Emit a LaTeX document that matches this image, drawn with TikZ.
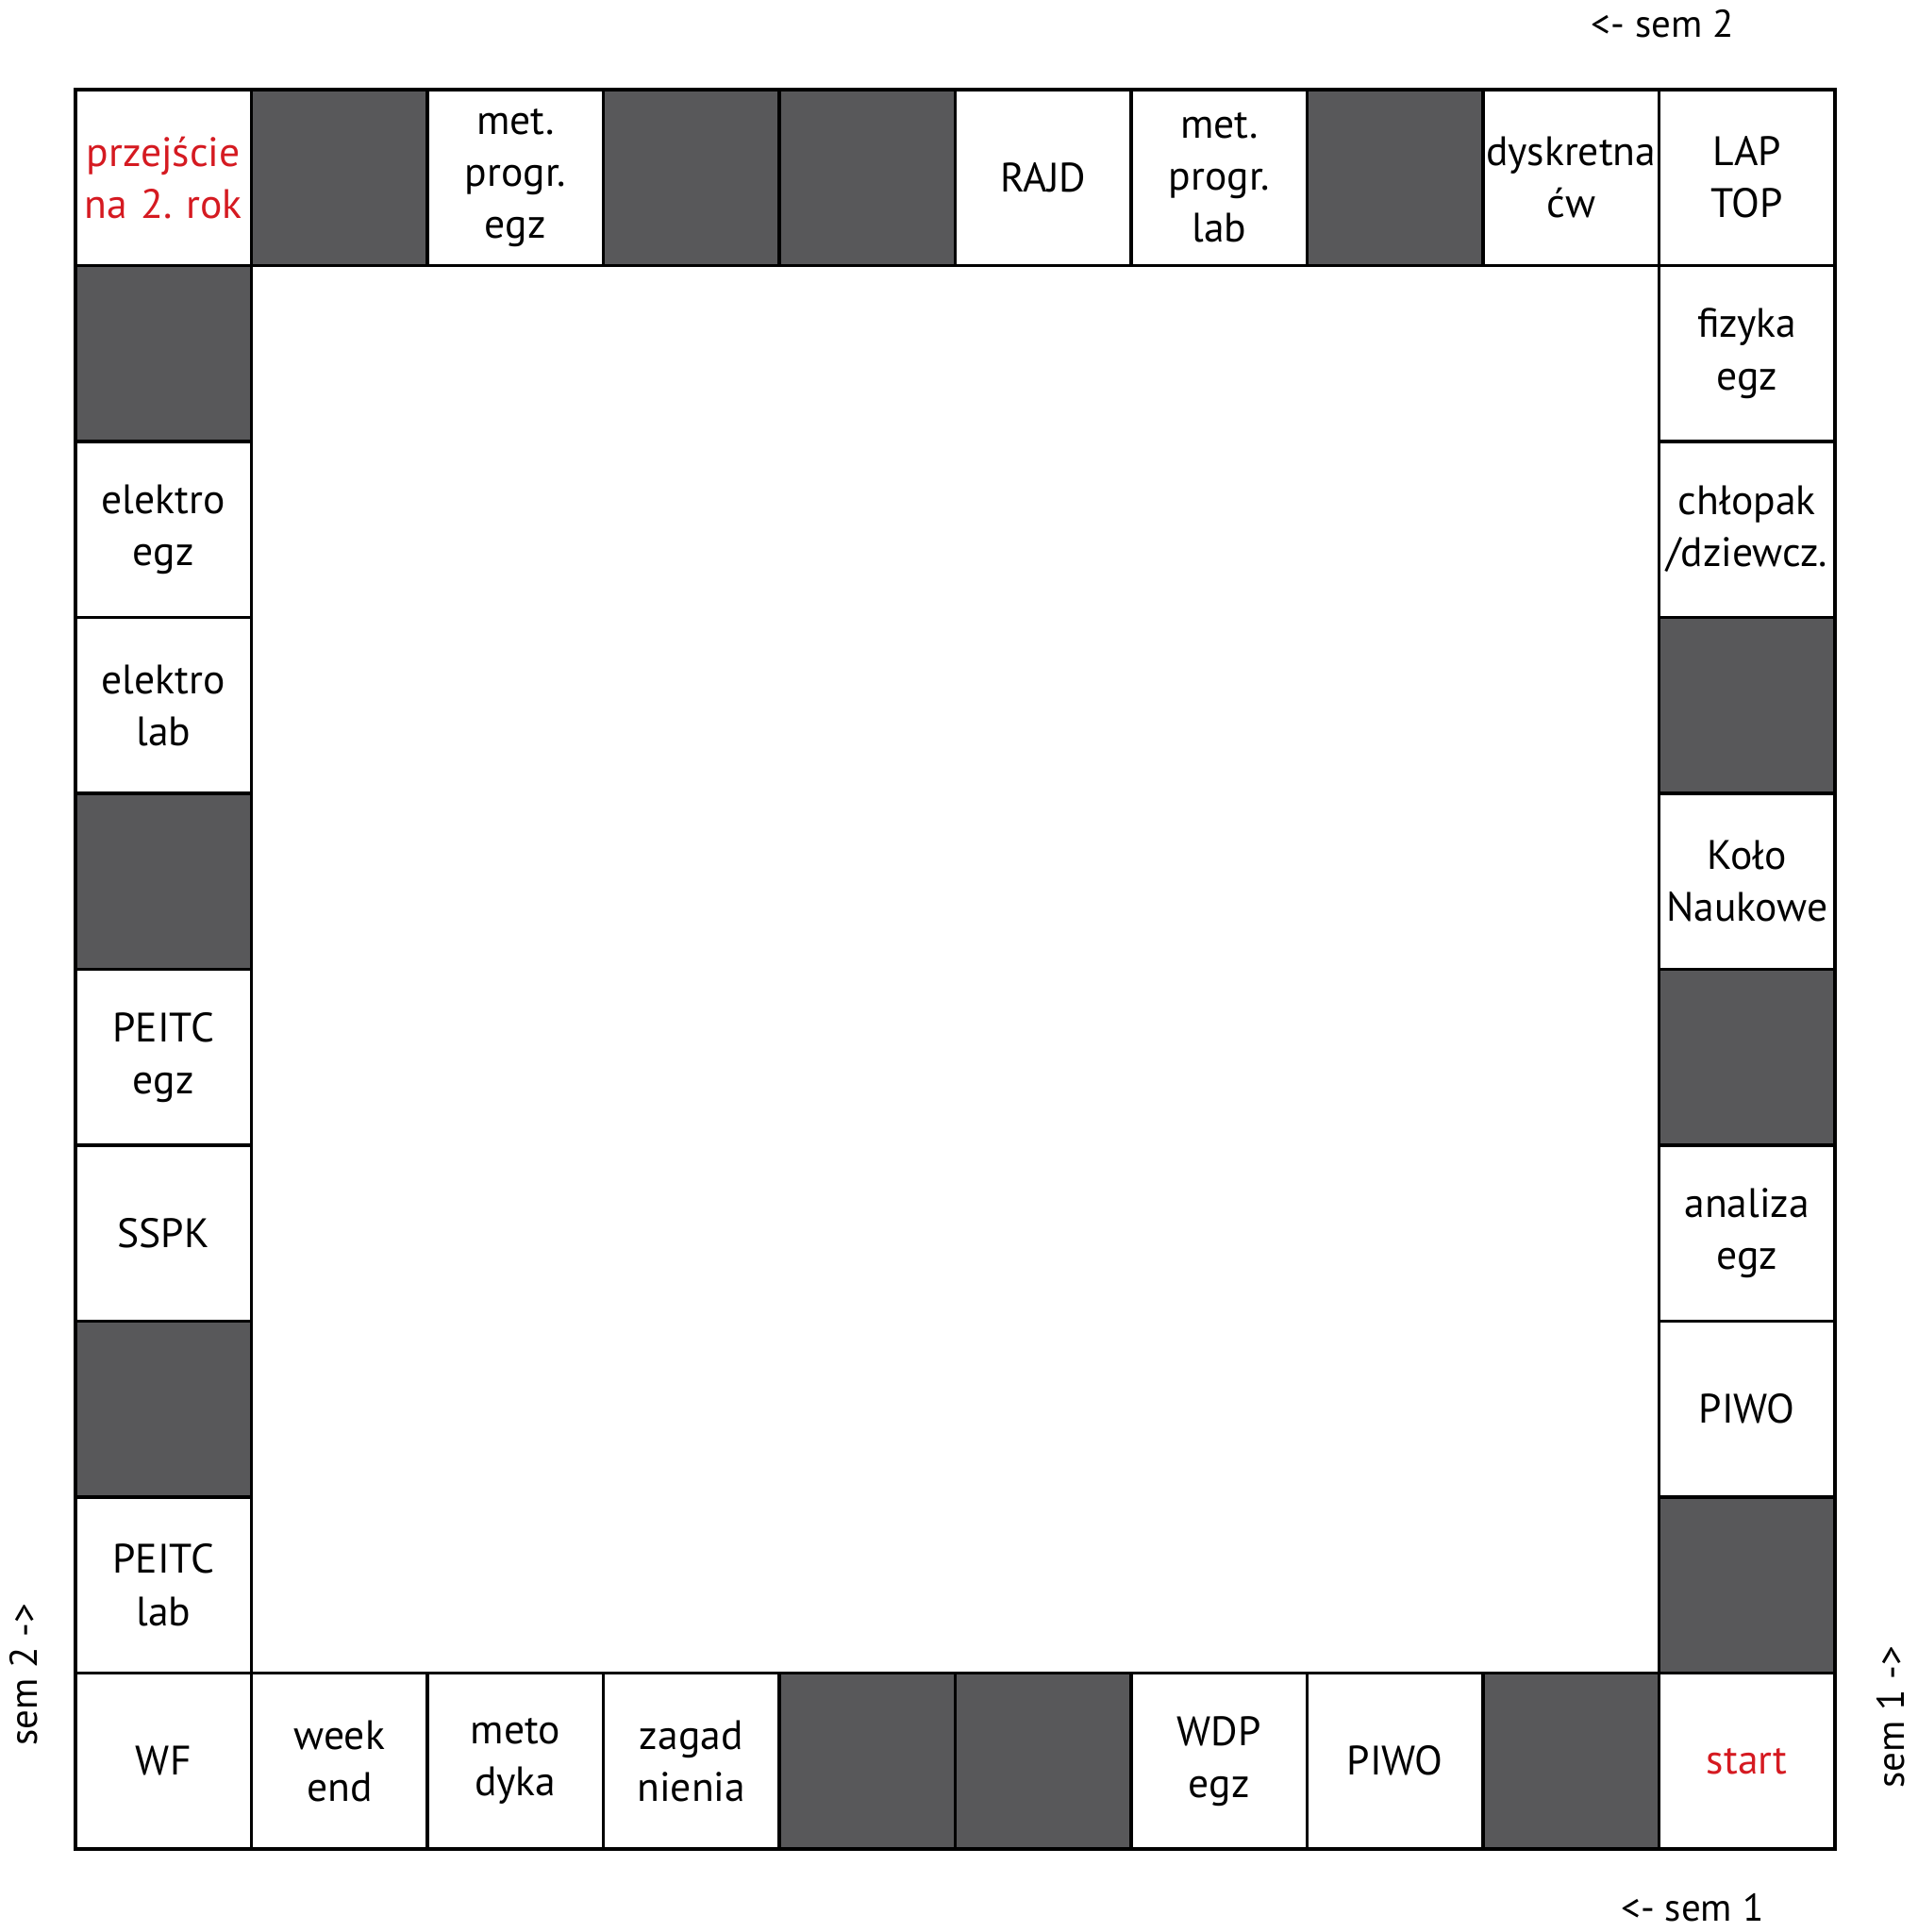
\documentclass[tikz,border=0pt]{standalone}
\usepackage{fontspec}
\setmainfont{PT Sans}
\usetikzlibrary{positioning}
\definecolor{boardgray}{RGB}{88,88,90}
\definecolor{boardred}{RGB}{213,26,33}

\begin{document}
\begin{tikzpicture}[node distance=0pt]
  % Define styles
  \tikzstyle{field} = [rectangle, draw, line width=1pt, text width=2cm, align=center, minimum height=2cm, inner sep=0pt, outer sep=0pt, font=\fontsize{13.3}{16.8}\selectfont]
  \tikzstyle{blank} = [field, fill=boardgray]
  \tikzstyle{special} = [field, text=boardred]
  \tikzstyle{sem} = [font=\fontsize{12.5}{15}\selectfont, anchor=base, inner sep=1pt]

  \useasboundingbox (-0.858,-0.944) rectangle (20.944,21.019);

  % Bottom row
  \node [field] (wf) at (1,1) {WF};
  \node [field, right=of wf] (weekend) {week\\end};
  \node [field, right=of weekend] (metodyka) {meto\\dyka};
  \node [field, right=of metodyka] (zagadnienia) {zagad\\nienia};
  \node [blank, right=of zagadnienia] (blank1) {};
  \node [blank, right=of blank1] (blank2) {};
  \node [field, right=of blank2] (wdp) {WDP\\egz};
  \node [field, right=of wdp] (piwoB) {PIWO};
  \node [blank, right=of piwoB] (blank3) {};
  \node [special, right=of blank3] (start) {start};

  % Left column
  \node [field, above=of wf] (peitclab) {PEITC\\lab};
  \node [blank, above=of peitclab] (blank4) {};
  \node [field, above=of blank4] (sspk) {SSPK};
  \node [field, above=of sspk] (peitcegz) {PEITC\\egz};
  \node [blank, above=of peitcegz] (blank5) {};
  \node [field, above=of blank5] (elektrolab) {elektro\\lab};
  \node [field, above=of elektrolab] (elektroegz) {elektro\\egz};
  \node [blank, above=of elektroegz] (blank6) {};
  \node [special, above=of blank6] (przejscie) {przejście\\na 2.\ rok};

  % Top row
  \node [blank, right=of przejscie] (blank7) {};
  \node [field, right=of blank7] (metegz) {met.\\progr.\\egz};
  \node [blank, right=of metegz] (blank8) {};
  \node [blank, right=of blank8] (blank9) {};
  \node [field, right=of blank9] (rajd) {RAJD};
  \node [field, right=of rajd] (metlab) {met.\\progr.\\lab};
  \node [blank, right=of metlab] (blank10) {};
  \node [field, right=of blank10] (dyskretna) {dyskretna\\ćw};
  \node [field, right=of dyskretna] (laptop) {LAP\\TOP};

  % Right column
  \node [field, below=of laptop] (fizyka) {fizyka\\egz};
  \node [field, below=of fizyka] (chlopak) {chłopak\\/dziewcz.};
  \node [blank, below=of chlopak] (blank11) {};
  \node [field, below=of blank11] (kolo) {Koło\\Naukowe};
  \node [blank, below=of kolo] (blank12) {};
  \node [field, below=of blank12] (analiza) {analiza\\egz};
  \node [field, below=of analiza] (piwoA) {PIWO};
  \node [blank, below=of piwoA] (blank13) {};

  % Directions
  \node [sem] (semtop) at (18.04,20.59) {<- sem 2};
  \node [sem] (sembottom) at (18.38,-0.82) {<- sem 1};
  \node [sem, rotate=90] (semleft) at (-0.43,1.98) {sem 2 ->};
  \node [sem, rotate=90] (semright) at (20.79,1.50) {sem 1 ->};
\end{tikzpicture}
\end{document}
